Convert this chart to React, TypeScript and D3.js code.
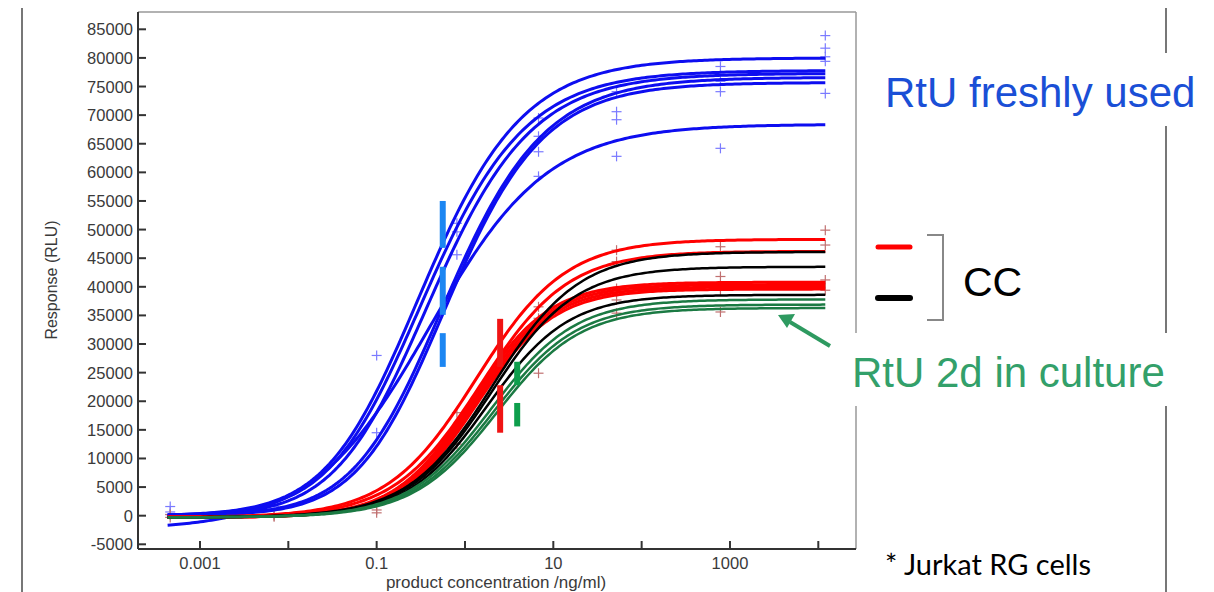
import React from "react"
import * as d3 from "d3"

// fitted 5PL curves: plateau, baseline, log10 EC50, hill slope, asymmetry
const blueTop = [80000, 77800, 77300, 76600, 75700, 68400]
const blueBottom = [0, 0, -200, 0, 0, -2500]
const blueLogEc50 = [-0.8, -0.77, -0.7, -0.52, -0.49, -0.4]
const blueHill = [0.7, 0.7, 0.7, 0.72, 0.74, 0.65]
const blueAsym = [1.5, 1.5, 1.5, 1.5, 1.5, 1]

const redTop = [48300, 46200, 40800, 40400, 40000, 39600]
const redBottom = [-300, -300, -300, -300, -300, -300]
const redLogEc50 = [0.13, 0.18, 0.08, 0.1, 0.12, 0.14]
const redHill = [0.86, 0.88, 1.0, 1.0, 1.0, 1.0]
const redAsym = [1, 1, 1, 1, 1, 1]

const blackTop = [46100, 43500, 38600]
const blackBottom = [-300, -300, -300]
const blackLogEc50 = [0.32, 0.3, 0.25]
const blackHill = [0.9, 0.92, 0.95]
const blackAsym = [1, 1, 1]

const greenTop = [37800, 36900, 36300]
const greenBottom = [-300, -300, -300]
const greenLogEc50 = [0.3, 0.33, 0.36]
const greenHill = [0.92, 0.92, 0.92]
const greenAsym = [1, 1, 1]

// replicate measurements (ng/ml and RLU)
const doses = [0.00046, 0.0069, 0.1, 0.81, 6.8, 52, 780, 12000]
const blueReps = [
  [650, 1600, 200],
  [1600, 300],
  [28000, 14500],
  [51100, 49600, 45600],
  [69500, 66300, 63600, 59300],
  [74100, 70600, 69200, 62800],
  [78500, 75900, 74100, 64200],
  [83900, 81700, 80200, 79400, 73800],
]
const ccReps = [
  [-300, 200],
  [0, -200],
  [1000, 500],
  [18000, 12500],
  [36500, 34500, 24900],
  [46400, 44400, 39700, 37700, 35400],
  [47000, 41800, 39400, 35600],
  [49900, 47300, 41200, 39400],
]

// EC50 marker dashes
const markerDose = [0.56, 2.5, 3.9]
const markerColor = ["#1c86f2", "#f01414", "#0e9e4c"]
const markerDashes = [
  [[55000, 46800], [43500, 35100], [31900, 26000]],
  [[34400, 26000], [22800, 14500]],
  [[26900, 22800], [19700, 15600]],
]

const yTicks = d3.range(-5000, 85001, 5000)
const xTicks = [0.001, 0.01, 0.1, 1, 10, 100, 1000, 10000]
const xTickLabels = ["0.001", "0.1", "10", "1000"]
const xLabelValues = [0.001, 0.1, 10, 1000]

const frame = { left: 138, right: 856, top: 12, bottom: 549 }
const font = "'Liberation Sans', Arial, sans-serif"

function App() {
  const x = d3.scaleLog().domain([0.001, 10000]).range([200, 818.3])
  const y = d3.scaleLinear().domain([-5000, 85000]).range([544.3, 29.3])

  const grid = d3.range(0, 241).map(i => {
    const lo = Math.log10(0.00043), hi = Math.log10(12000)
    return 10 ** (lo + (i / 240) * (hi - lo))
  })

  const curvePath = (top: number, bottom: number, le: number, h: number, s: number) =>
    d3.line<number>()
      .x(c => x(c))
      .y(c => y(bottom + (top - bottom) / Math.pow(1 + Math.pow(10, h * (le - Math.log10(c))), s)))(grid)

  const group = (tops: number[], bottoms: number[], le: number[], h: number[], s: number[], color: string, w: number) =>
    tops.map((t, i) => (
      <path key={color + i} d={curvePath(t, bottoms[i], le[i], h[i], s[i]) || ""} fill="none" stroke={color} strokeWidth={w} />
    ))

  const crosses = (reps: number[][], color: string) =>
    reps.flatMap((vals, i) =>
      vals.map((v, j) => {
        const cx = x(doses[i]), cy = y(v)
        return (
          <g key={color + i + "-" + j} stroke={color} strokeWidth={1.2}>
            <line x1={cx - 5} x2={cx + 5} y1={cy} y2={cy} />
            <line x1={cx} x2={cx} y1={cy - 5} y2={cy + 5} />
          </g>
        )
      })
    )

  return (
    <svg width={1214} height={592} style={{ position: "absolute", left: 0, top: 0, background: "#fff" }}>
      {/* slide frame lines */}
      <line x1={22} x2={22} y1={8} y2={592} stroke="#777" strokeWidth={2} />
      <line x1={1166} x2={1166} y1={8} y2={53} stroke="#777" strokeWidth={2} />
      <line x1={1166} x2={1166} y1={126} y2={333} stroke="#777" strokeWidth={2} />
      <line x1={1166} x2={1166} y1={406} y2={592} stroke="#777" strokeWidth={2} />

      {/* plot box */}
      <line x1={frame.left} x2={frame.right} y1={frame.top} y2={frame.top} stroke="#999" strokeWidth={1.5} />
      <line x1={frame.right} x2={frame.right} y1={frame.top} y2={333} stroke="#999" strokeWidth={1.5} />
      <line x1={frame.right} x2={frame.right} y1={406} y2={frame.bottom} stroke="#999" strokeWidth={1.5} />
      <line x1={frame.left} x2={frame.left} y1={frame.top} y2={frame.bottom} stroke="#333" strokeWidth={2} />
      <line x1={frame.left} x2={frame.right} y1={frame.bottom} y2={frame.bottom} stroke="#333" strokeWidth={2} />

      {yTicks.map(t => (
        <g key={"y" + t}>
          <line x1={frame.left} x2={frame.left + 8} y1={y(t)} y2={y(t)} stroke="#333" strokeWidth={2} />
          <text x={133} y={y(t) + 6} textAnchor="end" fontFamily={font} fontSize={16.5} fill="#3a3a3a">{t}</text>
        </g>
      ))}
      {xTicks.map(t => (
        <line key={"x" + t} x1={x(t)} x2={x(t)} y1={frame.bottom} y2={frame.bottom - 8} stroke="#333" strokeWidth={2} />
      ))}
      {xLabelValues.map((t, i) => (
        <text key={"xl" + t} x={x(t)} y={568.5} textAnchor="middle" fontFamily={font} fontSize={16.5} fill="#3a3a3a">{xTickLabels[i]}</text>
      ))}
      <text x={496} y={588} textAnchor="middle" fontFamily={font} fontSize={17} fill="#3a3a3a">product concentration /ng/ml)</text>
      <text transform="translate(57,280) rotate(-90)" textAnchor="middle" fontFamily={font} fontSize={16} fill="#3a3a3a">Response (RLU)</text>

      {crosses(blueReps, "#7a7aff")}
      {crosses(ccReps, "#c07070")}

      {group(blueTop, blueBottom, blueLogEc50, blueHill, blueAsym, "#0d0df0", 3)}
      {group(redTop, redBottom, redLogEc50, redHill, redAsym, "#ff0000", 3)}
      {group(blackTop, blackBottom, blackLogEc50, blackHill, blackAsym, "#000000", 2.5)}
      {group(greenTop, greenBottom, greenLogEc50, greenHill, greenAsym, "#1b7a43", 2.5)}

      {markerDose.map((d, i) =>
        markerDashes[i].map((seg, j) => (
          <line key={"m" + i + j} x1={x(d)} x2={x(d)} y1={y(seg[0])} y2={y(seg[1])} stroke={markerColor[i]} strokeWidth={6} />
        ))
      )}

      {/* annotations */}
      <text x={885} y={107} fontFamily={font} fontSize={42} fill="#1a4fd6">RtU freshly used</text>
      <line x1={878} x2={910} y1={247} y2={247} stroke="#ff0000" strokeWidth={5} strokeLinecap="round" />
      <line x1={878} x2={910} y1={298} y2={298} stroke="#000" strokeWidth={6} strokeLinecap="round" />
      <path d="M927,235 H943 V320 H927" fill="none" stroke="#888" strokeWidth={2} />
      <text x={963} y={296} fontFamily={font} fontSize={41} fill="#000">CC</text>
      <text x={852} y={387} fontFamily={font} fontSize={42} fill="#33a06a">RtU 2d in culture</text>
      <line x1={830} y1={346} x2={790} y2={322} stroke="#2e9a60" strokeWidth={4} />
      <path d="M778,315 L795,314 L787,328 Z" fill="#2e9a60" />
      <text x={885} y={575} fontFamily="Lato, 'Open Sans', sans-serif" fontSize={29} fill="#000">* Jurkat RG cells</text>
    </svg>
  )
}

export default App
